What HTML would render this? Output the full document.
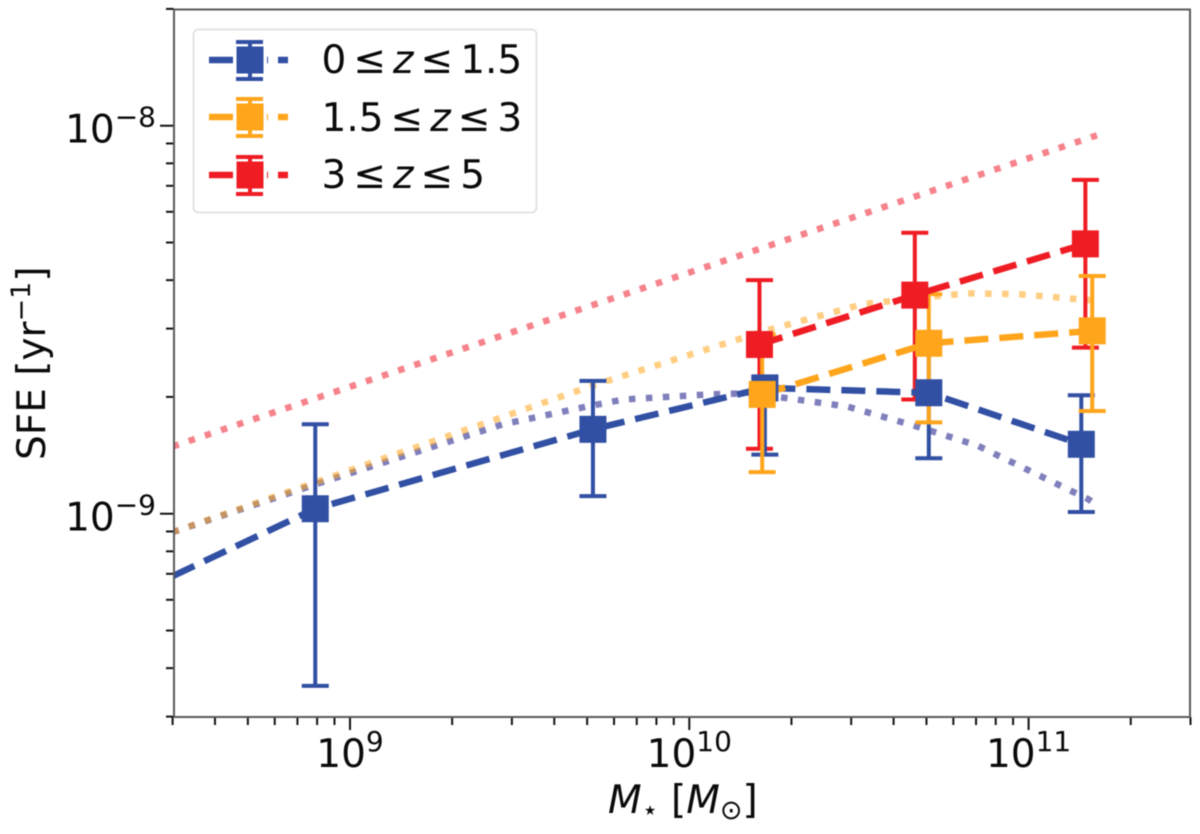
<!DOCTYPE html>
<html>
<head>
<meta charset="utf-8">
<style>
html,body{margin:0;padding:0;background:#fff;width:1200px;height:834px;overflow:hidden}
svg{display:block;filter:blur(0.4px)}
text{font-family:"DejaVu Sans","Liberation Sans",sans-serif;fill:#0a0a0a}
</style>
</head>
<body>
<svg id="chart" width="1200" height="834" viewBox="0 0 1200 834" xmlns="http://www.w3.org/2000/svg">
  <defs><clipPath id="plot-clip"><rect x="174" y="9.500" width="1016" height="707.500"/></clipPath></defs>
  <g id="lines-dotted" clip-path="url(#plot-clip)"></g>
  <g id="errors" clip-path="url(#plot-clip)"></g>
  <g id="lines-dashed" clip-path="url(#plot-clip)"></g>
  <g id="markers" clip-path="url(#plot-clip)"></g>
  <g id="axes"></g>
  <rect x="174" y="9.500" width="1016" height="707.500" fill="none" stroke="#5a5a5a" stroke-width="2"/>
  <text x="608" y="813" font-size="39"><tspan font-style="italic">M</tspan><tspan font-size="27" dy="6">⋆</tspan><tspan dy="-6"> [</tspan><tspan font-style="italic">M</tspan><tspan font-size="27" dy="6">⊙</tspan><tspan dy="-6">]</tspan></text>
  <text transform="translate(45,460) rotate(-90)" font-size="39">SFE [yr<tspan font-size="27" dy="-15">−1</tspan><tspan dy="15">]</tspan></text>

  <g>
    <rect x="193.500" y="29.500" width="343" height="183" rx="5" fill="#fff" fill-opacity="0.9" stroke="#dcdcdc" stroke-width="1.500"/>
    <g>
      <path d="M209 60H233M267 60H268M278 60H288" stroke="#314fa3" stroke-width="6.500" fill="none"/>
      <path d="M250 41V79M236 42H263M236 79H263" stroke="#314fa3" stroke-width="4" fill="none"/>
      <rect x="236.500" y="46.500" width="27" height="27" fill="#314fa3"/>
      <text x="321.500" y="73" font-size="39">0<tspan dx="7">≤</tspan><tspan dx="7" font-style="italic">z</tspan><tspan dx="7">≤</tspan><tspan dx="7">1.5</tspan></text>
    </g>
    <g>
      <path d="M209 117H233M267 117H268M278 117H288" stroke="#ffa51c" stroke-width="6.500" fill="none"/>
      <path d="M250 98V136M236 99H263M236 136H263" stroke="#ffa51c" stroke-width="4" fill="none"/>
      <rect x="236.500" y="103.500" width="27" height="27" fill="#ffa51c"/>
      <text x="321.500" y="131" font-size="39">1.5<tspan dx="7">≤</tspan><tspan dx="7" font-style="italic">z</tspan><tspan dx="7">≤</tspan><tspan dx="7">3</tspan></text>
    </g>
    <g>
      <path d="M209 175H233M267 175H268M278 175H288" stroke="#ef1c24" stroke-width="6.500" fill="none"/>
      <path d="M250 156V194M236 157H263M236 194H263" stroke="#ef1c24" stroke-width="4" fill="none"/>
      <rect x="236.500" y="161.500" width="27" height="27" fill="#ef1c24"/>
      <text x="321.500" y="188" font-size="39">3<tspan dx="7">≤</tspan><tspan dx="7" font-style="italic">z</tspan><tspan dx="7">≤</tspan><tspan dx="7">5</tspan></text>
    </g>
  </g>
</svg>
<script>
// Series data
const blueMass = [7.9e8, 5.2e9, 1.67e10, 5.08e10, 1.43e11];
const blueSFE = [1.03e-9, 1.65e-9, 2.11e-9, 2.05e-9, 1.51e-9];
const blueLow = [3.6e-10, 1.11e-9, 1.42e-9, 1.39e-9, 1.01e-9];
const blueHigh = [1.70e-9, 2.20e-9, 2.25e-9, 2.74e-9, 2.02e-9];

const orangeMass = [1.64e10, 5.08e10, 1.54e11];
const orangeSFE = [2.03e-9, 2.75e-9, 2.96e-9];
const orangeLow = [1.28e-9, 1.72e-9, 1.84e-9];
const orangeHigh = [2.9e-9, 3.68e-9, 4.1e-9];

const redMass = [1.61e10, 4.62e10, 1.47e11];
const redSFE = [2.73e-9, 3.66e-9, 4.96e-9];
const redLow = [1.47e-9, 1.97e-9, 2.68e-9];
const redHigh = [4.0e-9, 5.3e-9, 7.25e-9];

// Extension of the dashed low-z line to the left axis edge
const blueLeadMass = [3e8];
const blueLeadSFE = [6.9e-10];

// Dotted model curves
const modelRedMass = [3e8, 1.59e11];
const modelRedSFE = [1.49e-9, 9.45e-9];
const modelOrangeMass = [3e8, 5.2e9, 1.67e10, 3.25e10, 5.1e10, 6.6e10, 9.4e10, 1.52e11];
const modelOrangeSFE = [8.96e-10, 2.14e-9, 2.96e-9, 3.47e-9, 3.62e-9, 3.70e-9, 3.68e-9, 3.55e-9];
const modelBlueMass = [3e8, 7.9e8, 2.82e9, 5e9, 6.4e9, 1.15e10, 1.67e10, 1.82e10, 2.92e10, 4.56e10, 7.05e10, 1.5e11, 1.59e11];
const modelBlueSFE = [8.96e-10, 1.19e-9, 1.70e-9, 1.89e-9, 1.97e-9, 2.03e-9, 2.05e-9, 2.0e-9, 1.89e-9, 1.69e-9, 1.5e-9, 1.09e-9, 1.05e-9];

// Axis tick values
const xMajorTicks = [1e9, 1e10, 1e11];
const xMajorExponents = ["9", "10", "11"];
const xMinorTicks = [3e8,4e8,5e8,6e8,7e8,8e8,9e8,2e9,3e9,4e9,5e9,6e9,7e9,8e9,9e9,2e10,3e10,4e10,5e10,6e10,7e10,8e10,9e10,2e11,3e11];
const yMajorTicks = [1e-8, 1e-9];
const yMajorExponents = ["−8", "−9"];
const yMinorTicks = [2e-8,9e-9,8e-9,7e-9,6e-9,5e-9,4e-9,3e-9,2e-9,9e-10,8e-10,7e-10,6e-10,5e-10,4e-10,3e-10];

const NS = 'http://www.w3.org/2000/svg';
const BLUE = '#314fa3', ORANGE = '#ffa51c', RED = '#ef1c24';

function xPos(m) { return 350 + (Math.log10(m) - 9) * 339.3; }
function yPos(v) { return 716.6 - (Math.log10(v) - Math.log10(3e-10)) * 388; }
function make(tag, parentId) {
  const el = document.createElementNS(NS, tag);
  document.getElementById(parentId).appendChild(el);
  return el;
}
function pathFor(ms, vs) {
  return ms.map((m, i) => (i ? 'L' : 'M') + xPos(m).toFixed(1) + ' ' + yPos(vs[i]).toFixed(1)).join('');
}
function drawLine(parentId, ms, vs, color, width, dash, opacity) {
  const p = make('path', parentId);
  
  
  p.setAttribute('d', pathFor(ms, vs));
  p.setAttribute('fill', 'none');
  p.setAttribute('stroke', color);
  p.setAttribute('stroke-width', width);
  p.setAttribute('stroke-dasharray', dash);
  p.setAttribute('stroke-opacity', opacity);
  return p;
}
function drawErrors(ms, lows, highs, color) {
  ms.forEach((m, i) => {
    const x = xPos(m), y0 = yPos(lows[i]), y1 = yPos(highs[i]);
    const p = make('path', 'errors');
    
    
    p.setAttribute('d', `M${x} ${y0}V${y1}M${x - 13.5} ${y0}H${x + 13.5}M${x - 13.5} ${y1}H${x + 13.5}`);
    p.setAttribute('fill', 'none');
    p.setAttribute('stroke', color);
    p.setAttribute('stroke-width', 4);
  });
}
function drawMarkers(ms, vs, color) {
  ms.forEach((m, i) => {
    const r = make('rect', 'markers');
    
    
    r.setAttribute('x', xPos(m) - 13.5);
    r.setAttribute('y', yPos(vs[i]) - 13.5);
    r.setAttribute('width', 27);
    r.setAttribute('height', 27);
    r.setAttribute('fill', color);
  });
}

// dotted model curves
drawLine('lines-dotted', modelBlueMass, modelBlueSFE, '#2a2a90', 6.5, '6.5 10.5', 0.6);
drawLine('lines-dotted', modelOrangeMass, modelOrangeSFE, '#ffa51c', 6.5, '6.5 10.5', 0.55);
drawLine('lines-dotted', modelRedMass, modelRedSFE, '#ef1c2c', 6.5, '6.5 10.5', 0.55);

// error bars
drawErrors(redMass, redLow, redHigh, RED);
drawErrors(blueMass, blueLow, blueHigh, BLUE);
drawErrors(orangeMass, orangeLow, orangeHigh, ORANGE);

// dashed lines
drawLine('lines-dashed', blueLeadMass.concat(blueMass), blueLeadSFE.concat(blueSFE), BLUE, 6.5, '24 11', 1);
drawLine('lines-dashed', orangeMass, orangeSFE, ORANGE, 6.5, '24 11', 1);
drawLine('lines-dashed', redMass, redSFE, RED, 6.5, '24 11', 1);

// markers
drawMarkers(blueMass, blueSFE, BLUE);
drawMarkers(orangeMass, orangeSFE, ORANGE);
drawMarkers(redMass, redSFE, RED);

// axes
function tick(x1, y1, x2, y2) {
  const l = make('line', 'axes');
  
  
  l.setAttribute('x1', x1);
  l.setAttribute('y1', y1);
  l.setAttribute('x2', x2);
  l.setAttribute('y2', y2);
  l.setAttribute('stroke', '#111');
  l.setAttribute('stroke-width', 2);
}
xMinorTicks.forEach(m => tick(xPos(m), 717, xPos(m), 725));
yMinorTicks.forEach(v => tick(174, yPos(v), 166, yPos(v)));
xMajorTicks.forEach((m, i) => {
  tick(xPos(m), 717, xPos(m), 730);
  const t = make('text', 'axes');
  
  
  t.setAttribute('x', xPos(m));
  t.setAttribute('y', 767);
  t.setAttribute('font-size', 39);
  t.setAttribute('text-anchor', 'middle');
  t.textContent = '10';
  const s = document.createElementNS(NS, 'tspan');
  s.setAttribute('font-size', 28);
  s.setAttribute('dy', -16);
  s.textContent = xMajorExponents[i];
  t.appendChild(s);
});
yMajorTicks.forEach((v, i) => {
  tick(174, yPos(v), 160, yPos(v));
  const t = make('text', 'axes');
  
  
  t.setAttribute('x', 156);
  t.setAttribute('y', yPos(v) + 17);
  t.setAttribute('font-size', 39);
  t.setAttribute('text-anchor', 'end');
  t.textContent = '10';
  const s = document.createElementNS(NS, 'tspan');
  s.setAttribute('font-size', 28);
  s.setAttribute('dy', -16);
  s.textContent = yMajorExponents[i];
  t.appendChild(s);
});
</script>
</body>
</html>
